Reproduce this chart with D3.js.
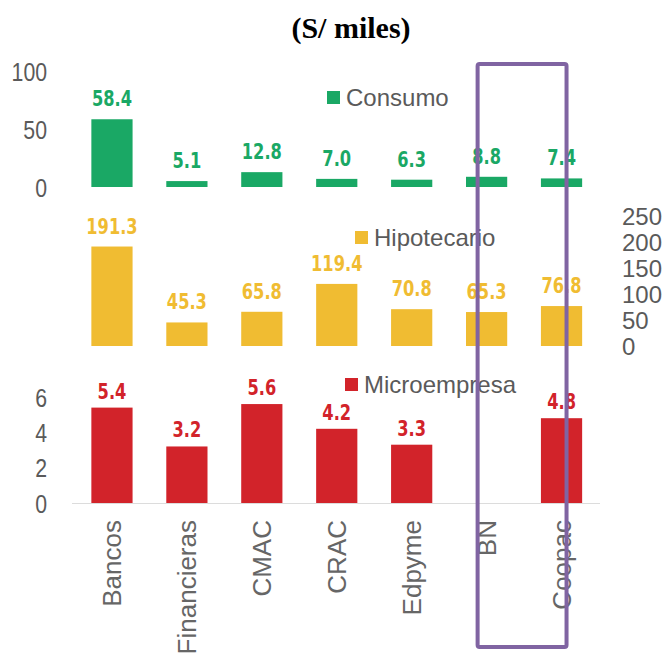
<!DOCTYPE html>
<html>
<head>
<meta charset="utf-8">
<script src="https://cdn.jsdelivr.net/npm/d3@7"></script>
<style>
  html, body { margin: 0; padding: 0; background: #fff; }
  svg { display: block; }
</style>
</head>
<body>
<svg id="chart" width="666" height="658"></svg>
<script>
const categories = ["Bancos", "Financieras", "CMAC", "CRAC", "Edpyme", "BN", "Coopac"];
const consumo = [58.4, 5.1, 12.8, 7.0, 6.3, 8.8, 7.4];
const hipotecario = [191.3, 45.3, 65.8, 119.4, 70.8, 65.3, 76.8];
const microempresa = [5.4, 3.2, 5.6, 4.2, 3.3, null, 4.8];
const consumoTicks = [0, 50, 100];
const hipotecarioTicks = [0, 50, 100, 150, 200, 250];
const microTicks = [0, 2, 4, 6];
const title = "(S/ miles)";

const svg = d3.select("#chart");
const axisFont = "'Liberation Sans', Arial, sans-serif";
const valueFont = "'DejaVu Sans Condensed', 'DejaVu Sans', sans-serif";
const textGray = "#5a5a5a";

const x = d3.scaleBand().domain(categories).range([74.5, 599]).paddingInner(0.45).paddingOuter(0.225);

const panels = [
  { name: "Consumo", values: consumo, ticks: consumoTicks, color: "#1aa865",
    y: d3.scaleLinear().domain([0, 100]).range([187, 71]), side: "left",
    legend: [327, 98], off: 13, axisSize: 25, axisScale: 0.85 },
  { name: "Hipotecario", values: hipotecario, ticks: hipotecarioTicks, color: "#f0bc32",
    y: d3.scaleLinear().domain([0, 250]).range([346, 216]), side: "right",
    legend: [355, 238], off: 13, axisSize: 24, axisScale: 1 },
  { name: "Microempresa", values: microempresa, ticks: microTicks, color: "#d2232a",
    y: d3.scaleLinear().domain([0, 6]).range([503, 397]), side: "left",
    legend: [345, 385], off: 9, axisSize: 25, axisScale: 0.85 }
];

// Title
svg.append("text")
  .attr("x", 351).attr("y", 38)
  .attr("text-anchor", "middle")
  .attr("font-family", "'Liberation Serif', 'Times New Roman', serif")
  .attr("font-weight", "bold")
  .attr("font-size", 30)
  .attr("fill", "#000")
  .text(title);

// baseline for bottom panel
svg.append("line")
  .attr("x1", 72).attr("x2", 600)
  .attr("y1", panels[2].y(0) + 0.5).attr("y2", panels[2].y(0) + 0.5)
  .attr("stroke", "#dcdcdc").attr("stroke-width", 1);

const fmtVal = d3.format(".1f");

panels.forEach(p => {
  const g = svg.append("g");
  const data = categories.map((c, i) => ({ c, v: p.values[i] })).filter(d => d.v != null);

  // axis
  const axis = (p.side === "left" ? d3.axisLeft(p.y) : d3.axisRight(p.y))
    .tickValues(p.ticks).tickFormat(d3.format("d")).tickSize(0).tickPadding(0);
  const ag = svg.append("g")
    .attr("transform", `translate(${p.side === "left" ? 47 : 622},0)`)
    .call(axis);
  ag.select(".domain").remove();
  ag.selectAll("text")
    .attr("font-family", axisFont)
    .attr("font-size", p.axisSize)
    .attr("fill", textGray)
    .attr("dy", "0.36em")
    .attr("transform", `scale(${p.axisScale},1)`);

  // bars
  g.selectAll("rect.bar").data(data).enter().append("rect")
    .attr("class", "bar")
    .attr("x", d => x(d.c))
    .attr("width", x.bandwidth())
    .attr("y", d => p.y(d.v))
    .attr("height", d => p.y(0) - p.y(d.v))
    .attr("fill", p.color);

  // value labels
  g.selectAll("text.val").data(data).enter().append("text")
    .attr("class", "val")
    .attr("transform", d => `translate(${x(d.c) + x.bandwidth() / 2},${p.y(d.v) - p.off}) scale(0.86,1)`)
    .attr("text-anchor", "middle")
    .attr("font-family", valueFont)
    .attr("font-weight", "bold")
    .attr("font-size", 21)
    .attr("fill", p.color)
    .text(d => fmtVal(d.v));

  // legend
  g.append("rect")
    .attr("x", p.legend[0]).attr("y", p.legend[1] - 7)
    .attr("width", 13).attr("height", 13)
    .attr("fill", p.color);
  g.append("text")
    .attr("x", p.legend[0] + 19).attr("y", p.legend[1])
    .attr("dy", "0.35em")
    .attr("font-family", "'Liberation Sans', Arial, sans-serif")
    .attr("font-size", 24)
    .attr("fill", textGray)
    .text(p.name);
});

// category labels
svg.append("g").selectAll("text").data(categories).enter().append("text")
  .attr("transform", d => `translate(${x(d) + x.bandwidth() / 2},520) rotate(-90)`)
  .attr("dy", "0.36em")
  .attr("text-anchor", "end")
  .attr("font-family", "'Liberation Sans', Arial, sans-serif")
  .attr("font-size", 26)
  .attr("fill", "#666")
  .text(d => d);

// highlight frame around BN and Coopac
const xa = x("BN") + x.bandwidth() / 2 - 9;
const xb = x("Coopac") + x.bandwidth() / 2 + 5;
svg.append("rect")
  .attr("x", xa).attr("y", 64)
  .attr("width", xb - xa)
  .attr("height", 583)
  .attr("rx", 2)
  .attr("fill", "none")
  .attr("stroke", "#8064a2")
  .attr("stroke-width", 4);
</script>
</body>
</html>
